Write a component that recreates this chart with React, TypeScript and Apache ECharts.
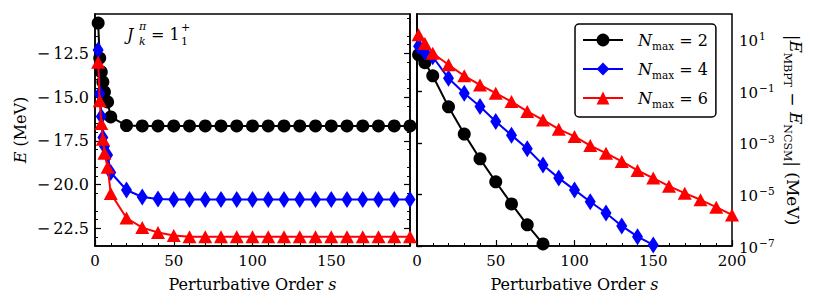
import { useEffect, useRef } from 'react';
import * as echarts from 'echarts';

// ---------- data ----------
const sLeft = [2, 3, 4, 5, 6, 8, 10, 20, 30, 40, 50, 60, 70, 80, 90, 100, 110, 120, 130, 140, 150, 160, 170, 180, 190, 200];
const eNmax2 = [-10.77, -12.77, -13.56, -14.13, -14.7, -15.27, -16.13, -16.62, -16.64, -16.64, -16.64, -16.64, -16.64, -16.64, -16.64, -16.64, -16.64, -16.64, -16.64, -16.64, -16.64, -16.64, -16.64, -16.64, -16.64, -16.64];
const eNmax4 = [-12.3, -14.8, -16.1, -17.3, -17.8, -18.3, -19.3, -20.3, -20.7, -20.82, -20.84, -20.84, -20.84, -20.84, -20.84, -20.84, -20.84, -20.84, -20.84, -20.84, -20.84, -20.84, -20.84, -20.84, -20.84, -20.84];
const eNmax6 = [-13.0, -15.2, -16.5, -17.4, -18.2, -19.0, -20.5, -21.9, -22.45, -22.73, -22.9, -22.97, -22.97, -22.97, -22.97, -22.97, -22.97, -22.97, -22.97, -22.97, -22.97, -22.97, -22.97, -22.97, -22.97, -22.97];

const sRight = [1, 5, 10, 20, 30, 40, 50, 60, 70, 80, 90, 100, 110, 120, 130, 140, 150, 160, 170, 180, 190, 200];
const dNmax2 = [2.6, 1.29, 0.4, 0.025, 2.2e-3, 2.4e-4, 3.1e-5, 4.3e-6, 6.6e-7, 1.2e-7];
const dNmax4 = [5.6, 3.3, 2.2, 0.32, 0.085, 0.026, 6.8e-3, 2.0e-3, 5.9e-4, 1.4e-4, 4.3e-5, 1.5e-5, 5.2e-6, 1.9e-6, 6.0e-7, 2.3e-7, 1.1e-7];
const dNmax6 = [15.5, 7.1, 3.0, 1.07, 0.4, 0.178, 0.085, 0.04, 0.0166, 7.8e-3, 3.4e-3, 1.78e-3, 7.9e-4, 4.0e-4, 1.9e-4, 8.5e-5, 4.3e-5, 2.1e-5, 1.12e-5, 6.2e-6, 3.2e-6, 1.6e-6];

const xTicksMajor = 50;
const leftYLabels = [-22.5, -20.0, -17.5, -15.0, -12.5];
const rightYLabels = [1e-7, 1e-5, 1e-3, 1e-1, 1e1];
const seriesNames = ['Nmax2', 'Nmax4', 'Nmax6'];
const nmaxValues = ['2', '4', '6'];

// ---------- style ----------
const FONT = 'DejaVu Serif';
const colors = ['#000000', '#0000ff', '#ff0000'];
const symbols = ['circle', 'diamond', 'triangle'];
const symbolSizes: any[] = [13, [11, 17], [14, 13]];

const G0 = { left: 95, top: 14, width: 315, height: 232 };
const G1 = { left: 417, top: 14, width: 315, height: 232 };

const withMinus = (s: string) => s.replace('-', '\u2212\u2009');
const withMinusTight = (s: string) => s.replace('-', '\u2212');

function buildOption() {
  const tickLabelStyle = { fontFamily: FONT, fontSize: 15, color: '#000' };
  const axisLine = { show: true, lineStyle: { color: '#000', width: 1.5 } };
  const nameStyle = (size: number, rich: any) => ({ fontFamily: FONT, fontSize: size, color: '#000', rich });

  const xAxisCommon = (gridIndex: number, hideMax: boolean) => ({
    type: 'value',
    gridIndex,
    min: 0,
    max: 200,
    interval: xTicksMajor,
    splitLine: { show: false },
    axisLine,
    axisTick: { show: true, inside: true, length: 6, lineStyle: { color: '#000', width: 1.2 } },
    minorTick: { show: true, splitNumber: 5, length: 3, lineStyle: { color: '#000', width: 1 } },
    axisLabel: {
      ...tickLabelStyle,
      margin: 7,
      formatter: (v: number) => (hideMax && v === 200 ? '' : String(v)),
    },
    name: 'Perturbative Order {i|s}',
    nameLocation: 'middle',
    nameGap: 30,
    nameTextStyle: nameStyle(16, { i: { fontFamily: FONT, fontSize: 16, fontStyle: 'italic', color: '#000' } }),
  });

  const leftY = (position: string, labels: boolean) => ({
    type: 'value',
    gridIndex: 0,
    position,
    min: -23.5,
    max: -10.25,
    interval: 2.5,
    splitLine: { show: false },
    axisLine,
    axisTick: {
      show: true,
      inside: true,
      length: 6,
      customValues: leftYLabels,
      lineStyle: { color: '#000', width: 1.2 },
    },
    minorTick: { show: true, splitNumber: 5, length: 3, lineStyle: { color: '#000', width: 1 } },
    axisLabel: {
      show: labels,
      ...tickLabelStyle,
      fontSize: 16,
      margin: 6,
      customValues: leftYLabels,
      formatter: (v: number) => withMinus(Number(v).toFixed(1)),
    },
    name: labels ? '{i|E} (MeV)' : '',
    nameLocation: 'middle',
    nameGap: 67,
    nameTextStyle: nameStyle(16, { i: { fontFamily: FONT, fontSize: 16, fontStyle: 'italic', color: '#000' } }),
  });

  const rightY = (position: string, labels: boolean) => ({
    type: 'log',
    gridIndex: 1,
    position,
    logBase: 10,
    min: 1e-7,
    max: 1e2,
    splitLine: { show: false },
    axisLine,
    axisTick: {
      show: true,
      inside: !labels,
      length: 5,
      customValues: rightYLabels,
      lineStyle: { color: '#000', width: 1.2 },
    },
    minorTick: { show: false },
    axisLabel: {
      show: labels,
      customValues: rightYLabels,
      margin: 7,
      fontFamily: FONT,
      color: '#000',
      formatter: (v: number) => {
        const e = Math.round(Math.log10(v));
        return '{b|10}{e|' + withMinusTight(String(e)) + '}';
      },
      rich: {
        b: { fontFamily: FONT, fontSize: 15, color: '#000', lineHeight: 18, verticalAlign: 'bottom' },
        e: { fontFamily: FONT, fontSize: 10.5, color: '#000', lineHeight: 18, verticalAlign: 'top', padding: [0, 0, 0, 1] },
      },
    },
    name: labels ? '|{i|E}{s|MBPT} \u2212 {i|E}{s|NCSM}| (MeV)' : '',
    nameLocation: 'middle',
    nameRotate: -90,
    nameGap: 50,
    nameTextStyle: nameStyle(17, {
      i: { fontFamily: FONT, fontSize: 17, fontStyle: 'italic', color: '#000', lineHeight: 22, verticalAlign: 'top' },
      s: { fontFamily: FONT, fontSize: 11, color: '#000', lineHeight: 22, verticalAlign: 'bottom' },
    }),
  });

  const mk = (name: string, idx: number, xs: number[], ys: number[], grid: number) => ({
    type: 'line',
    name,
    xAxisIndex: grid,
    yAxisIndex: grid === 0 ? 0 : 2,
    data: ys.map((y, i) => [xs[i], y]),
    symbol: symbols[idx],
    symbolSize: symbolSizes[idx],
    showAllSymbol: true,
    clip: true,
    lineStyle: { color: colors[idx], width: 2 },
    itemStyle: { color: colors[idx], borderWidth: 0 },
    emphasis: { disabled: true },
    z: 2 + idx,
  });

  const series = [
    mk(seriesNames[0], 0, sLeft, eNmax2, 0),
    mk(seriesNames[1], 1, sLeft, eNmax4, 0),
    mk(seriesNames[2], 2, sLeft, eNmax6, 0),
    mk(seriesNames[0], 0, sRight, dNmax2, 1),
    mk(seriesNames[1], 1, sRight, dNmax4, 1),
    mk(seriesNames[2], 2, sRight, dNmax6, 1),
  ];

  const annText = (text: string, x: number, y: number, size: number, italic: boolean) => ({
    type: 'text',
    x,
    y,
    z: 100,
    style: {
      text,
      fontFamily: FONT,
      fontSize: size,
      fontStyle: italic ? 'italic' : 'normal',
      fill: '#000',
      verticalAlign: 'middle',
      align: 'left',
    },
  });

  return {
    animation: false,
    backgroundColor: '#fff',
    textStyle: { fontFamily: FONT },
    grid: [
      { ...G0, show: true, borderColor: '#000', borderWidth: 1.5, backgroundColor: 'transparent', containLabel: false },
      { ...G1, show: true, borderColor: '#000', borderWidth: 1.5, backgroundColor: 'transparent', containLabel: false },
    ],
    xAxis: [xAxisCommon(0, true), xAxisCommon(1, false)],
    yAxis: [leftY('left', true), leftY('right', false), rightY('right', true), rightY('left', false)],
    legend: {
      show: true,
      orient: 'vertical',
      left: 575,
      top: 24,
      padding: [8, 8, 8, 7],
      itemGap: 10,
      itemWidth: 40,
      itemHeight: 16,
      backgroundColor: '#fff',
      borderColor: '#000',
      borderWidth: 1.5,
      borderRadius: 4,
      data: seriesNames,
      formatter: (name: string) => {
        const k = seriesNames.indexOf(name);
        return '{i|N}{s|max}{n| = ' + nmaxValues[k] + '}';
      },
      textStyle: {
        fontFamily: FONT,
        fontSize: 16,
        color: '#000',
        rich: {
          i: { fontFamily: FONT, fontSize: 16, fontStyle: 'italic', color: '#000', padding: [0, 0, 0, 10], lineHeight: 16, verticalAlign: 'top' },
          s: { fontFamily: FONT, fontSize: 10.5, color: '#000', lineHeight: 16, verticalAlign: 'bottom', padding: [0, 0, -3, 0] },
          n: { fontFamily: FONT, fontSize: 16, color: '#000', lineHeight: 16, verticalAlign: 'top' },
        },
      },
    },
    graphic: [
      annText('J', 127, 34, 16, true),
      annText('\u03c0', 139, 26, 11, true),
      annText('k', 139, 41, 11, true),
      annText('= 1', 151, 34, 16, false),
      annText('+', 181, 27, 11, false),
      annText('1', 181, 41, 11, false),
    ],
    series,
  };
}

export default function App() {
  const ref = useRef<HTMLDivElement>(null);
  useEffect(() => {
    const chart = echarts.init(ref.current!, null, { renderer: 'svg' });
    chart.setOption(buildOption() as any);
    return () => chart.dispose();
  }, []);
  return <div ref={ref} style={{ position: 'fixed', left: 0, top: 0, width: 813, height: 307 }} />;
}
